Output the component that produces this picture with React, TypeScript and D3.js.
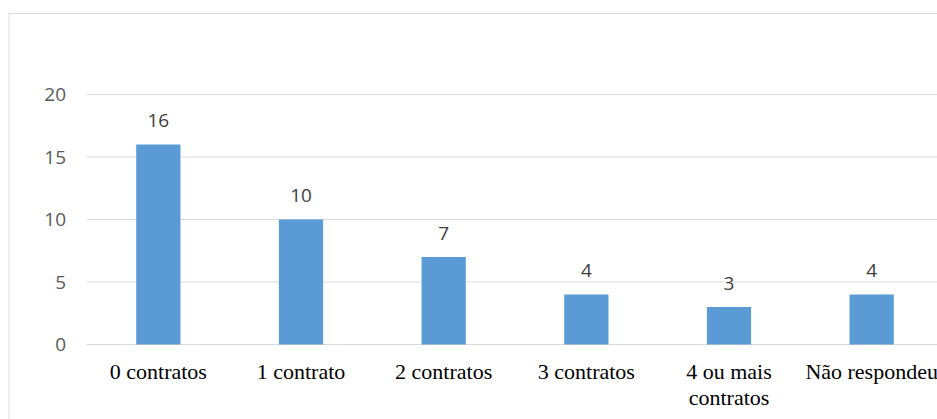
import React from "react";
import * as d3 from "d3";

const categories: string[][] = [
  ["0 contratos"],
  ["1 contrato"],
  ["2 contratos"],
  ["3 contratos"],
  ["4 ou mais", "contratos"],
  ["Não respondeu"],
];
const values: number[] = [16, 10, 7, 4, 3, 4];
const yTicks: number[] = [0, 5, 10, 15, 20];

const W = 937;
const H = 419;

export default function App() {
  const left = 87;
  const right = 943;
  const y0 = 344.5;
  const y20 = 94.5;
  const x = d3
    .scaleBand<number>()
    .domain(values.map((_, i) => i))
    .range([left, right])
    .paddingInner(0.69)
    .paddingOuter(0.345);
  const y = d3.scaleLinear().domain([0, 20]).range([y0, y20]);
  const step = x.step();
  return (
    <svg
      width={W}
      height={H}
      style={{ position: "absolute", left: 0, top: 0, display: "block" }}
    >
      <rect x={0} y={0} width={W} height={H} fill="#fff" />
      <rect x={9} y={13.5} width={940} height={420} fill="none" stroke="#D9D9D9" strokeWidth={1} />
      {yTicks.map((t) => (
        <g key={t}>
          <line x1={left} x2={right} y1={y(t)} y2={y(t)} stroke="#D9D9D9" strokeWidth={1} />
          <text
            x={66}
            y={y(t)}
            dy="0.35em"
            textAnchor="end"
            fontFamily="'Open Sans', 'Noto Sans', sans-serif"
            fontSize={19}
            fill="#595959"
          >
            {t}
          </text>
        </g>
      ))}
      {values.map((v, i) => {
        const bx = x(i)!;
        const bw = x.bandwidth();
        return (
          <g key={i}>
            <rect x={bx} y={y(v)} width={bw} height={y0 - y(v)} fill="#5B9BD5" />
            <text
              x={bx + bw / 2}
              y={y(v) - 17.5}
              textAnchor="middle"
              fontFamily="'Open Sans', 'Noto Sans', sans-serif"
              fontSize={19}
              fill="#404040"
            >
              {v}
            </text>
            <text
              textAnchor="middle"
              fontFamily="'Liberation Serif', 'Times New Roman', serif"
              fontSize={22}
              fill="#000"
            >
              {categories[i].map((line, j) => (
                <tspan key={j} x={left + step * (i + 0.5)} y={379 + j * 26}>
                  {line}
                </tspan>
              ))}
            </text>
          </g>
        );
      })}
    </svg>
  );
}
